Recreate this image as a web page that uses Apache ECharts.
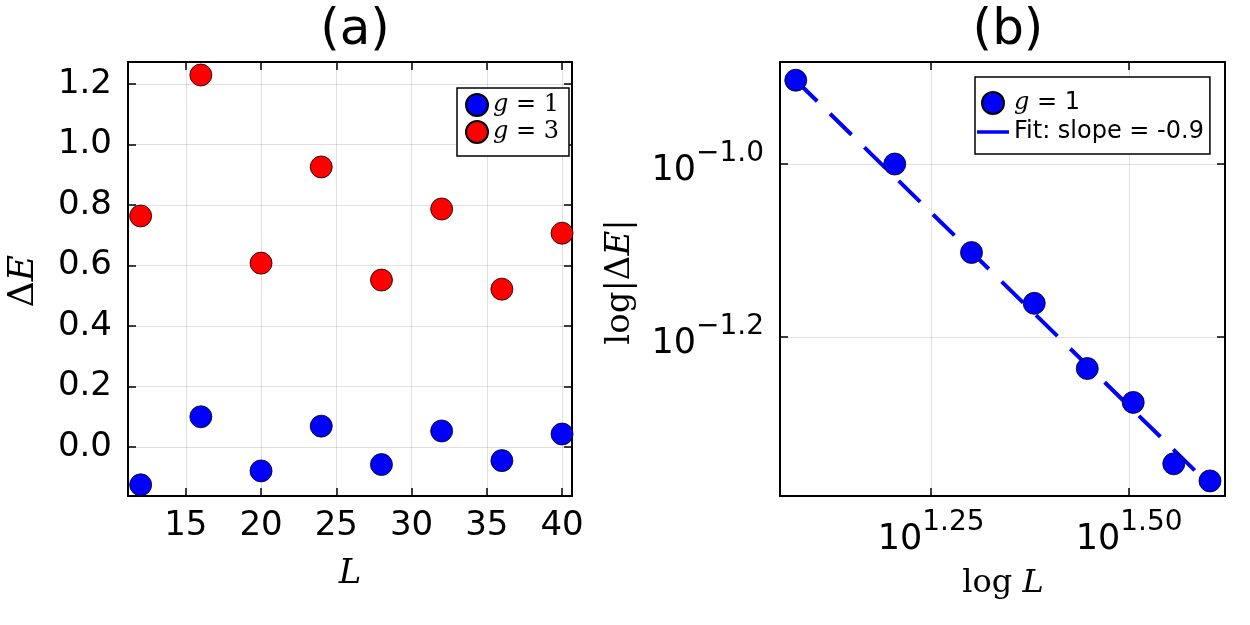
<!DOCTYPE html>
<html lang="en">
<head>
	<meta charset="UTF-8">
	<title>ΔE vs L</title>
	<style>
		body, div {
			margin: 0;
			padding: 0;
		}
		#main {
			width: 1250px;
			height: 625px;
			background: #fff;
		}
	</style>
</head>
<body>
	<div id="main"></div>

	<script src="https://cdn.jsdelivr.net/npm/echarts@6/dist/echarts.min.js"></script>

	<script>
    // data
    var sizes = [12, 16, 20, 24, 28, 32, 36, 40];
    var gapG1 = [-0.125, 0.100, -0.079, 0.069, -0.058, 0.053, -0.045, 0.043];
    var gapG3 = [0.764, 1.230, 0.608, 0.926, 0.552, 0.787, 0.522, 0.707];
    // fit line endpoints (L, |dE|)
    var fitL = [12, 40];
    var fitGap = [0.125, 0.0425];

    // tick labels
    var ticksLa = [15, 20, 25, 30, 35, 40];
    var ticksEa = [0, 0.2, 0.4, 0.6, 0.8, 1.0, 1.2];
    var ticksLb = [1.25, 1.50];
    var ticksEb = [-1.2, -1.0];

    var sans = 'DejaVu Sans';
    var serif = 'DejaVu Serif';

    var ptsA1 = sizes.map(function (l, i) { return [l, gapG1[i]]; });
    var ptsA3 = sizes.map(function (l, i) { return [l, gapG3[i]]; });
    var ptsB = sizes.map(function (l, i) { return [Math.log10(l), Math.log10(Math.abs(gapG1[i]))]; });
    var ptsFit = fitL.map(function (l, i) { return [Math.log10(l), Math.log10(fitGap[i])]; });

    var grids = [
        {left: 128, top: 62, width: 444, height: 434},
        {left: 780, top: 62, width: 445, height: 434}
    ];

    function mainAxis(gi, pos, min, max, ticks, fmt, rich) {
        return {
            type: 'value', gridIndex: gi, position: pos, min: min, max: max,
            axisLine: {show: true, onZero: false, lineStyle: {color: '#000', width: 2}},
            axisTick: {show: true, inside: true, length: 8, customValues: ticks, lineStyle: {color: '#000', width: 1.5}},
            axisLabel: {
                show: true, customValues: ticks, formatter: fmt, color: '#000',
                fontFamily: sans, fontSize: 34, margin: (pos === 'left' ? 16 : 13), rich: rich
            },
            splitLine: {show: true, lineStyle: {color: 'rgba(0,0,0,0.12)', width: 1}}
        };
    }

    function mirrorAxis(gi, pos, min, max, ticks) {
        return {
            type: 'value', gridIndex: gi, position: pos, min: min, max: max,
            axisLine: {show: true, onZero: false, lineStyle: {color: '#000', width: 2}},
            axisTick: {show: true, inside: true, length: 8, customValues: ticks, lineStyle: {color: '#000', width: 1.5}},
            axisLabel: {show: false},
            splitLine: {show: false}
        };
    }

    var powRich = {
        b: {fontFamily: sans, fontSize: 35, color: '#000', verticalAlign: 'bottom'},
        s: {fontFamily: sans, fontSize: 28, color: '#000', verticalAlign: 'bottom', padding: [0, 0, 20, 0]}
    };

    function powFmt(digits) {
        return function (v) {
            var t = v.toFixed(digits).replace('-', '\u2212');
            return '{b|10}{s|' + t + '}';
        };
    }

    function mathRich(size) {
        return {
            i: {fontFamily: serif, fontStyle: 'italic', fontSize: size, color: '#000'},
            r: {fontFamily: serif, fontSize: size, color: '#000'}
        };
    }

    var xMinB = 1.0593, xMaxB = 1.621, yMinB = -1.384, yMaxB = -0.882;

    var myEcharts = echarts.init(document.getElementById('main'));

    var options = {
        backgroundColor: '#fff',
        animation: false,
        grid: grids,
        title: [
            {text: '(a)', left: 350, top: 1, textAlign: 'center', textStyle: {fontFamily: sans, fontSize: 50, fontWeight: 'normal', color: '#000'}},
            {text: '(b)', left: 1003, top: 1, textAlign: 'center', textStyle: {fontFamily: sans, fontSize: 50, fontWeight: 'normal', color: '#000'}}
        ],
        xAxis: [
            mainAxis(0, 'bottom', 11.16, 40.66, ticksLa, function (v) { return String(v); }),
            mirrorAxis(0, 'top', 11.16, 40.66, ticksLa),
            mainAxis(1, 'bottom', xMinB, xMaxB, ticksLb, powFmt(2), powRich),
            mirrorAxis(1, 'top', xMinB, xMaxB, ticksLb)
        ],
        yAxis: [
            mainAxis(0, 'left', -0.162, 1.273, ticksEa, function (v) { return v.toFixed(1); }),
            mirrorAxis(0, 'right', -0.162, 1.273, ticksEa),
            mainAxis(1, 'left', yMinB, yMaxB, ticksEb, powFmt(1), powRich),
            mirrorAxis(1, 'right', yMinB, yMaxB, ticksEb)
        ],
        legend: [
            {
                data: ['g = 1', 'g = 3'],
                left: 457, top: 88, orient: 'vertical',
                itemWidth: 22, itemHeight: 22, itemGap: 3,
                padding: [5, 10, 12, 8],
                borderColor: '#000', borderWidth: 1.5, backgroundColor: '#fff',
                formatter: function (n) { return '{i|g} = ' + n.slice(4); },
                textStyle: {fontFamily: serif, fontSize: 24, color: '#000',
                    rich: {i: {fontFamily: serif, fontStyle: 'italic', fontSize: 24, color: '#000'}}}
            },
            {
                data: ['g = 1', {name: 'Fit: slope = -0.9', icon: 'path://M0,0 L32,0 L32,3.5 L0,3.5 Z'}],
                left: 975, top: 77, orient: 'vertical',
                itemWidth: 32, itemHeight: 22, itemGap: 5,
                padding: [14, 6, 10, 2],
                borderColor: '#000', borderWidth: 1.5, backgroundColor: '#fff',
                formatter: function (n) { return n === 'g = 1' ? '{i|g} = 1' : n; },
                textStyle: {fontFamily: sans, fontSize: 24, color: '#000',
                    rich: {i: {fontFamily: serif, fontStyle: 'italic', fontSize: 24, color: '#000'}}}
            }
        ],
        graphic: [
            {type: 'text', x: 350, y: 574, style: {text: '{i|L}', rich: mathRich(34), align: 'center', verticalAlign: 'middle'}},
            {type: 'text', x: 24, y: 281, rotation: Math.PI / 2, style: {text: '{r|Δ}{i|E}', rich: mathRich(36), align: 'center', verticalAlign: 'middle'}},
            {type: 'text', x: 620, y: 282, rotation: Math.PI / 2, style: {text: '{r|log|Δ}{i|E}{r||}', rich: mathRich(34), align: 'center', verticalAlign: 'middle'}},
            {type: 'text', x: 1003, y: 584, style: {text: '{r|log }{i|L}', rich: mathRich(32), align: 'center', verticalAlign: 'middle'}}
        ],
        series: [
            {
                name: 'g = 1', type: 'scatter', xAxisIndex: 0, yAxisIndex: 0,
                symbolSize: 22, data: ptsA1,
                itemStyle: {color: '#0000ff', borderColor: '#000', borderWidth: 0.8, opacity: 1}
            },
            {
                name: 'g = 3', type: 'scatter', xAxisIndex: 0, yAxisIndex: 0,
                symbolSize: 22, data: ptsA3,
                itemStyle: {color: '#ff0000', borderColor: '#000', borderWidth: 0.8, opacity: 1}
            },
            {
                name: 'Fit: slope = -0.9', type: 'line', xAxisIndex: 2, yAxisIndex: 2,
                data: ptsFit, showSymbol: false, symbol: 'none',
                lineStyle: {color: '#0000ff', width: 4, type: [30, 18]},
                itemStyle: {color: '#0000ff'}
            },
            {
                name: 'g = 1', type: 'scatter', xAxisIndex: 2, yAxisIndex: 2,
                symbolSize: 22, data: ptsB, z: 3,
                itemStyle: {color: '#0000ff', borderColor: '#000', borderWidth: 0.8, opacity: 1}
            }
        ]
    };

    myEcharts.setOption(options);
	</script>

</body>
</html>
